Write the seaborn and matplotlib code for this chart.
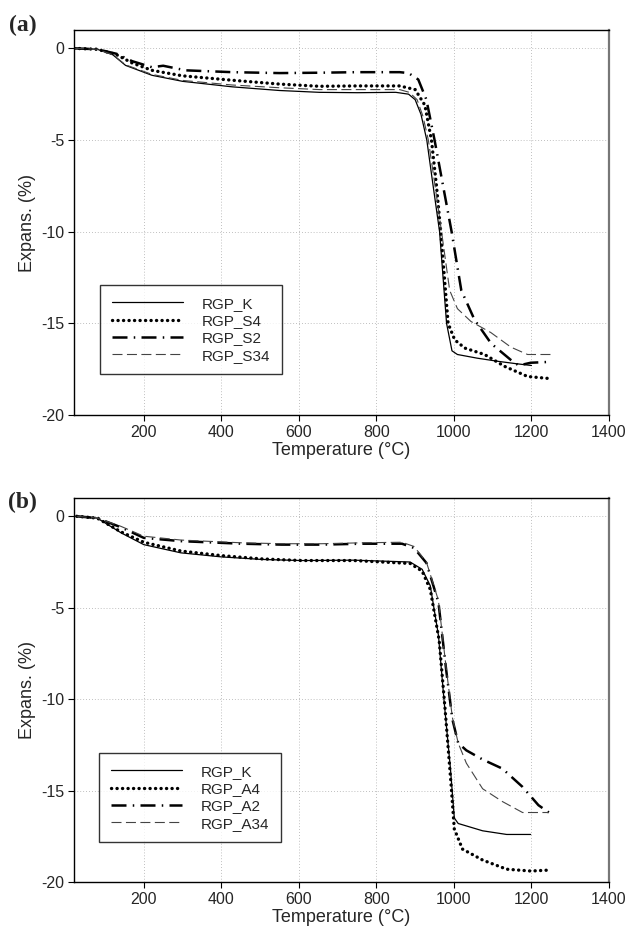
import matplotlib
matplotlib.use("Agg")
import matplotlib.pyplot as plt
import seaborn as sns
import pandas as pd

# ---------------- data: panel (a) ----------------
a_K_T = [20, 80, 120, 153, 221, 300, 428, 550, 653, 750, 850, 883, 900, 915, 930, 945, 963, 981, 995, 1009, 1060, 1113, 1160, 1200]
a_K_v = [0, -0.05, -0.35, -0.93, -1.47, -1.8, -2.1, -2.3, -2.4, -2.42, -2.4, -2.5, -2.8, -3.6, -5.0, -7.3, -10.0, -15.0, -16.5, -16.7, -16.9, -17.07, -17.2, -17.3]

a_S4_T = [20, 80, 130, 170, 221, 300, 428, 550, 653, 750, 860, 900, 925, 942, 955, 966, 985, 1002, 1028, 1079, 1131, 1190, 1241, 1250]
a_S4_v = [0, -0.05, -0.35, -0.8, -1.2, -1.5, -1.74, -1.95, -2.07, -2.05, -2.05, -2.25, -3.1, -5.0, -7.5, -10.0, -15.0, -15.9, -16.35, -16.7, -17.35, -17.9, -18.0, -18.05]

a_S2_T = [20, 80, 130, 170, 221, 250, 308, 428, 550, 653, 750, 860, 883, 908, 929, 950, 972, 994, 1019, 1053, 1096, 1147, 1167, 1198, 1250]
a_S2_v = [0, -0.05, -0.3, -0.7, -1.03, -0.95, -1.2, -1.3, -1.35, -1.33, -1.3, -1.3, -1.35, -1.7, -2.8, -5.0, -7.5, -10.0, -13.2, -14.8, -16.1, -17.0, -17.3, -17.15, -17.1]

a_S34_T = [20, 80, 120, 153, 221, 300, 428, 550, 653, 750, 860, 885, 905, 920, 934, 950, 968, 989, 1009, 1044, 1095, 1147, 1190, 1250]
a_S34_v = [0, -0.05, -0.35, -0.9, -1.42, -1.75, -2.0, -2.15, -2.25, -2.25, -2.25, -2.4, -2.8, -3.7, -5.0, -7.3, -10.0, -13.2, -14.2, -14.9, -15.5, -16.3, -16.7, -16.7]

# ---------------- data: panel (b) ----------------
b_K_T = [27, 80, 141, 200, 296, 400, 504, 607, 742, 887, 918, 939, 960, 975, 991, 1001, 1011, 1074, 1136, 1198]
b_K_v = [0, -0.1, -0.9, -1.55, -2.0, -2.22, -2.36, -2.42, -2.4, -2.5, -2.9, -3.8, -6.5, -10.2, -13.8, -16.5, -16.8, -17.2, -17.4, -17.4]

b_A4_T = [27, 80, 141, 200, 296, 400, 504, 607, 742, 887, 918, 939, 962, 977, 992, 1001, 1022, 1074, 1136, 1198, 1245]
b_A4_v = [0, -0.1, -0.85, -1.42, -1.9, -2.15, -2.33, -2.42, -2.42, -2.58, -3.0, -4.0, -6.8, -10.5, -14.5, -17.1, -18.2, -18.8, -19.3, -19.4, -19.35]

b_A2_T = [27, 80, 141, 200, 296, 452, 556, 659, 763, 866, 897, 929, 960, 980, 996, 1011, 1032, 1074, 1125, 1177, 1218, 1245]
b_A2_v = [0, -0.1, -0.6, -1.18, -1.36, -1.5, -1.55, -1.55, -1.5, -1.5, -1.73, -2.55, -4.7, -8.4, -11.1, -12.4, -12.8, -13.3, -13.8, -14.8, -15.8, -16.2]

b_A34_T = [27, 80, 141, 200, 296, 452, 556, 659, 763, 866, 897, 929, 960, 980, 996, 1011, 1032, 1074, 1125, 1177, 1218, 1245]
b_A34_v = [0, -0.1, -0.55, -1.09, -1.3, -1.45, -1.5, -1.5, -1.45, -1.42, -1.65, -2.5, -4.6, -8.3, -11.0, -12.4, -13.5, -14.9, -15.6, -16.2, -16.2, -16.2]

labels_a = ["RGP_K", "RGP_S4", "RGP_S2", "RGP_S34"]
labels_b = ["RGP_K", "RGP_A4", "RGP_A2", "RGP_A34"]
x_ticks = [200, 400, 600, 800, 1000, 1200, 1400]
y_ticks = [0, -5, -10, -15, -20]

# ---------------- styling ----------------
sns.set_theme(style="white")
plt.rcParams["font.family"] = ["Liberation Sans", "DejaVu Sans"]
plt.rcParams["axes.unicode_minus"] = False

styles = [
    dict(color="black", lw=0.9, linestyle="-"),
    dict(color="black", lw=2.4, linestyle=(0, (0.05, 1.6)), dash_capstyle="round"),
    dict(color="black", lw=1.8, linestyle=(0, (6, 2.5, 0.6, 2.5))),
    dict(color="#444444", lw=0.8, linestyle=(0, (9, 4))),
]

fig = plt.figure(figsize=(6.3, 9.39), dpi=100)
W, H = 630, 939
ax_a = fig.add_axes([74 / W, (H - 415) / H, 535 / W, 385 / H])
ax_b = fig.add_axes([74 / W, (H - 882) / H, 535 / W, 384 / H])

panels = [
    (ax_a, [(a_K_T, a_K_v), (a_S4_T, a_S4_v), (a_S2_T, a_S2_v), (a_S34_T, a_S34_v)], labels_a, (0.049, 0.106)),
    (ax_b, [(b_K_T, b_K_v), (b_A4_T, b_A4_v), (b_A2_T, b_A2_v), (b_A34_T, b_A34_v)], labels_b, (0.047, 0.104)),
]

for ax, series, labels, lpos in panels:
    for (T, v), lab, st in zip(series, labels, styles):
        df = pd.DataFrame({"T": T, "v": v})
        sns.lineplot(data=df, x="T", y="v", ax=ax, sort=False, estimator=None,
                     label=lab, **st)
    ax.set_xlim(20, 1400)
    ax.set_ylim(-20, 1)
    ax.set_xticks(x_ticks)
    ax.set_yticks(y_ticks)
    ax.set_xticklabels([str(t) for t in x_ticks], fontsize=11.5)
    ax.set_yticklabels([str(t) for t in y_ticks], fontsize=11.5)
    ax.grid(True, linestyle=(0, (1, 2.5)), color="#aaaaaa", lw=0.6)
    ax.set_xlabel("Temperature (°C)", fontsize=13, labelpad=2)
    ax.set_ylabel("Expans. (%)", fontsize=13, labelpad=4)
    ax.tick_params(axis="both", which="major", direction="out", length=4, width=0.8,
                   color="black", pad=3, bottom=True, left=True)
    for side in ["left", "bottom", "top"]:
        ax.spines[side].set_color("black")
        ax.spines[side].set_linewidth(1.0)
    ax.spines["right"].set_color("#777777")
    ax.spines["right"].set_linewidth(1.6)
    leg = ax.legend(loc="lower left", bbox_to_anchor=lpos, fontsize=11,
                    frameon=True, fancybox=False, edgecolor="black",
                    handlelength=4.7, handletextpad=1.2, borderpad=0.75,
                    labelspacing=0.22, borderaxespad=0)
    leg.get_frame().set_linewidth(1.0)

fig.text(9 / W, 1 - 25 / H, "(a)", fontsize=17, fontweight="bold",
         family=["Liberation Serif", "DejaVu Serif"], va="center", ha="left")
fig.text(8 / W, 1 - 502 / H, "(b)", fontsize=17, fontweight="bold",
         family=["Liberation Serif", "DejaVu Serif"], va="center", ha="left")

fig.savefig("out.png", dpi=100, facecolor="white")
